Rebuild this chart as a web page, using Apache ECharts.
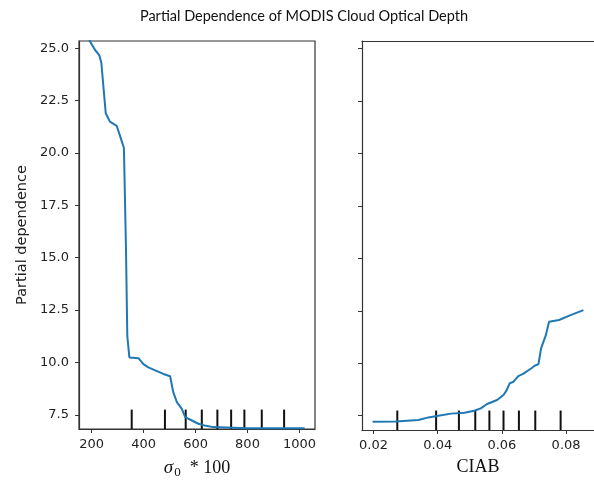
<!DOCTYPE html>
<html>
<head>
<meta charset="utf-8">
<script src="https://cdn.jsdelivr.net/npm/echarts@6/dist/echarts.min.js"></script>
<style>
  html, body { margin: 0; padding: 0; background: #fff; }
  #chart { width: 594px; height: 484px; }
</style>
</head>
<body>
<div id="chart"></div>
<script>
// partial dependence on sigma0*100
const xSigma = [190, 213, 229, 237, 254, 270, 296, 309, 324, 332, 337, 345, 380, 399, 418, 476, 502, 514, 528, 547, 560, 572, 611, 640, 668, 797, 1020]
const pdSigma = [25.4, 24.92, 24.68, 24.31, 21.9, 21.5, 21.3, 20.82, 20.24, 15.4, 11.27, 10.24, 10.2, 9.92, 9.76, 9.45, 9.34, 8.58, 8.1, 7.78, 7.39, 7.31, 7.07, 6.97, 6.91, 6.86, 6.86]
const decSigma = [354, 482, 562, 624, 684, 737, 788, 855, 941]

// partial dependence on CIAB
const xCiab = [0.0197, 0.0269, 0.034, 0.0371, 0.0402, 0.0442, 0.0483, 0.0514, 0.0534, 0.0554, 0.0585, 0.0605, 0.0615, 0.0624, 0.0636, 0.0651, 0.0666, 0.0692, 0.0702, 0.0714, 0.0722, 0.0737, 0.0747, 0.0778, 0.0814, 0.0854]
const pdCiab = [7.21, 7.23, 7.30, 7.42, 7.5, 7.6, 7.64, 7.74, 7.85, 8.06, 8.25, 8.49, 8.72, 9.04, 9.12, 9.39, 9.49, 9.76, 9.88, 9.96, 10.71, 11.34, 11.98, 12.06, 12.29, 12.53]
const decCiab = [0.0274, 0.0395, 0.0466, 0.0517, 0.0561, 0.0605, 0.0653, 0.0704, 0.0783]

const yTicks = [7.5, 10, 12.5, 15, 17.5, 20, 22.5, 25]
const xTicksSigma = [200, 400, 600, 800, 1000]
const xTicksCiab = [0.02, 0.04, 0.06, 0.08]

const yMin = 6.82, yMax = 25.35

const labelFont = { fontFamily: 'DejaVu Sans', fontSize: 13, color: '#222' }
const serif = 'Liberation Serif'
const spine = { color: '#333', width: 1.2 }

function xAxisCfg (idx, min, max, ticks, name, fmt) {
  return {
    type: 'value', gridIndex: idx, min: min, max: max,
    name: name, nameLocation: 'middle', nameGap: 28,
    nameTextStyle: {
      fontFamily: serif, fontSize: 18, color: '#111',
      rich: {
        s: { fontFamily: serif, fontStyle: 'italic', fontSize: 19, color: '#111' },
        sub: { fontFamily: serif, fontSize: 13, color: '#111', verticalAlign: 'bottom', padding: [9, 0, 0, 1] },
        t: { fontFamily: serif, fontSize: 18, color: '#111' }
      }
    },
    axisLine: { show: true, onZero: false, lineStyle: spine },
    axisTick: { show: true, length: 4, customValues: ticks, lineStyle: { color: '#333' } },
    axisLabel: Object.assign({ margin: 9, customValues: ticks, formatter: fmt }, labelFont),
    splitLine: { show: false }
  }
}

function yAxisCfg (idx, showLabels) {
  return {
    type: 'value', gridIndex: idx, min: yMin, max: yMax,
    name: showLabels ? 'Partial dependence' : '',
    nameLocation: 'middle', nameGap: 49,
    nameTextStyle: { fontFamily: 'DejaVu Sans', fontSize: 14.5, color: '#222' },
    axisLine: { show: true, onZero: false, lineStyle: spine },
    axisTick: { show: true, length: 4, customValues: yTicks, lineStyle: { color: '#333' } },
    axisLabel: Object.assign({ show: showLabels, margin: 10, customValues: yTicks, formatter: v => v.toFixed(1) }, labelFont),
    splitLine: { show: false }
  }
}

function rug (idx, values) {
  return {
    type: 'custom', xAxisIndex: idx, yAxisIndex: idx, silent: true,
    data: values.map(v => [v, yMin]),
    renderItem: function (params, api) {
      const x = api.value(0)
      const p0 = api.coord([x, yMin])
      const p1 = api.coord([x, yMin + 0.05 * (yMax - yMin)])
      return { type: 'line', shape: { x1: p0[0], y1: p0[1], x2: p1[0], y2: p1[1] }, style: { stroke: '#111', lineWidth: 2 } }
    }
  }
}

function pdLine (idx, xs, ys) {
  return {
    type: 'line', xAxisIndex: idx, yAxisIndex: idx, showSymbol: false, clip: true,
    data: xs.map((x, i) => [x, ys[i]]),
    lineStyle: { color: '#1f77b4', width: 2 }, z: 3
  }
}

const chart = echarts.init(document.getElementById('chart'))
chart.setOption({
  animation: false,
  backgroundColor: '#fff',
  title: {
    text: 'Partial Dependence of MODIS Cloud Optical Depth',
    left: 299, top: 4, textAlign: 'center',
    textStyle: { fontFamily: 'Lato', fontSize: 14.5, fontWeight: 'normal', color: '#111' }
  },
  grid: [
    { left: 79, top: 41, width: 236, height: 389, show: true, borderColor: '#333', borderWidth: 1.2 },
    // right panel runs past the picture's right edge, so only left/top/bottom spines show
    { left: 362, top: 41, width: 237, height: 389, show: false }
  ],
  xAxis: [
    xAxisCfg(0, 151, 1060, xTicksSigma, '{s|σ}{sub|0}{t|  * 100}', v => String(v)),
    xAxisCfg(1, 0.0164, 0.0887, xTicksCiab, 'CIAB', v => v.toFixed(2)),
    {
      type: 'value', gridIndex: 1, position: 'top', min: 0.0164, max: 0.0887,
      axisLine: { show: true, onZero: false, lineStyle: spine },
      axisTick: { show: false }, axisLabel: { show: false }, splitLine: { show: false }
    }
  ],
  yAxis: [yAxisCfg(0, true), yAxisCfg(1, false)],
  series: [
    pdLine(0, xSigma, pdSigma),
    rug(0, decSigma),
    pdLine(1, xCiab, pdCiab),
    rug(1, decCiab)
  ]
})
</script>
</body>
</html>
